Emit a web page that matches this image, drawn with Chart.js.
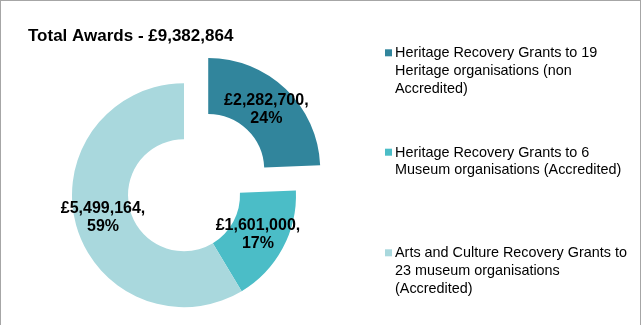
<!DOCTYPE html>
<html>
<head>
<meta charset="utf-8">
<title>Total Awards</title>
<script src="https://cdn.jsdelivr.net/npm/chart.js@4.4.0/dist/chart.umd.min.js"></script>
<style>
  html, body { margin: 0; padding: 0; background: #fff; }
  #wrap { position: relative; width: 641px; height: 325px; }
  #frame {
    position: absolute; left: 0; top: 0; width: 641px; height: 325px;
    box-sizing: border-box; border: 1px solid #a6a6a6; border-bottom: none;
    pointer-events: none;
  }
</style>
</head>
<body>
<div id="wrap">
  <canvas id="awardsChart" width="641" height="325"></canvas>
  <div id="frame"></div>
</div>
<script>
const titleText = "Total Awards - £9,382,864";
const categories = [
    "Heritage Recovery Grants to 19 Heritage organisations (non Accredited)",
    "Heritage Recovery Grants to 6 Museum organisations (Accredited)",
    "Arts and Culture Recovery Grants to 23 museum organisations (Accredited)"
];
const awards = [2282700, 1601000, 5499164];

const FONT = '"Liberation Sans", Arial, sans-serif';
Chart.defaults.font.family = FONT;

function money(v) {
    return "£" + String(v).replace(/\B(?=(\d{3})+(?!\d))/g, ",");
}

// labels on each slice: "£value," then "pct%"
const sliceLabels = {
    id: "sliceLabels",
    afterDatasetsDraw(chart) {
        let ctx = chart.ctx;
        let data = chart.data.datasets[0].data;
        let total = data.reduce((a, b) => a + b, 0);
        let meta = chart.getDatasetMeta(0);
        ctx.save();
        ctx.font = "bold 16px " + FONT;
        ctx.fillStyle = "#000";
        ctx.textAlign = "center";
        ctx.textBaseline = "middle";
        meta.data.forEach((arc, i) => {
            let p = arc.getProps(["x", "y", "startAngle", "endAngle", "innerRadius", "outerRadius"], true);
            let mid = (p.startAngle + p.endAngle) / 2;
            let r = (p.innerRadius + p.outerRadius) / 2 + (arc.options.offset || 0) / 4;
            let x = p.x + Math.cos(mid) * r;
            let y = p.y + Math.sin(mid) * r;
            ctx.fillText(money(data[i]) + ",", x, y - 9);
            ctx.fillText(Math.round(data[i] / total * 100) + "%", x, y + 9);
        });
        ctx.restore();
    }
};

// legend on the right, wrapped text with square markers
const sideLegend = {
    id: "sideLegend",
    afterDraw(chart, args, opts) {
        let ctx = chart.ctx;
        let colors = chart.data.datasets[0].backgroundColor;
        ctx.save();
        ctx.font = opts.size + "px " + FONT;
        ctx.textBaseline = "alphabetic";
        ctx.textAlign = "left";
        chart.data.labels.forEach((label, i) => {
            let words = label.split(" ");
            let lines = [];
            let line = "";
            words.forEach(w => {
                let test = line ? line + " " + w : w;
                if (line && ctx.measureText(test).width > opts.maxWidth) {
                    lines.push(line);
                    line = w;
                } else {
                    line = test;
                }
            });
            lines.push(line);
            let base = opts.tops[i];
            ctx.fillStyle = colors[i];
            ctx.fillRect(opts.x, base - 8, 7, 7);
            ctx.fillStyle = "#000";
            lines.forEach((l, j) => ctx.fillText(l, opts.x + 10, base + j * opts.lineHeight));
        });
        ctx.restore();
    }
};

new Chart(document.getElementById("awardsChart"), {
    type: "doughnut",
    data: {
        labels: categories,
        datasets: [{
            data: awards,
            backgroundColor: ["#31859c", "#4bbdc7", "#a9d8dd"],
            borderWidth: 0,
            offset: [140, 0, 0]
        }]
    },
    options: {
        responsive: false,
        animation: false,
        radius: 112,
        cutout: "50%",
        layout: { padding: { left: 28, right: 301, top: 0, bottom: 15 } },
        plugins: {
            legend: { display: false },
            tooltip: { enabled: false },
            title: {
                display: true,
                text: titleText,
                align: "start",
                color: "#000",
                font: { size: 17, weight: "bold", family: FONT },
                padding: { top: 26, bottom: 34 }
            },
            sideLegend: {
                x: 385,
                size: 14.4,
                lineHeight: 17.6,
                maxWidth: 240,
                tops: [57.3, 156.7, 257.3]
            }
        }
    },
    plugins: [sliceLabels, sideLegend]
});
</script>
</body>
</html>
